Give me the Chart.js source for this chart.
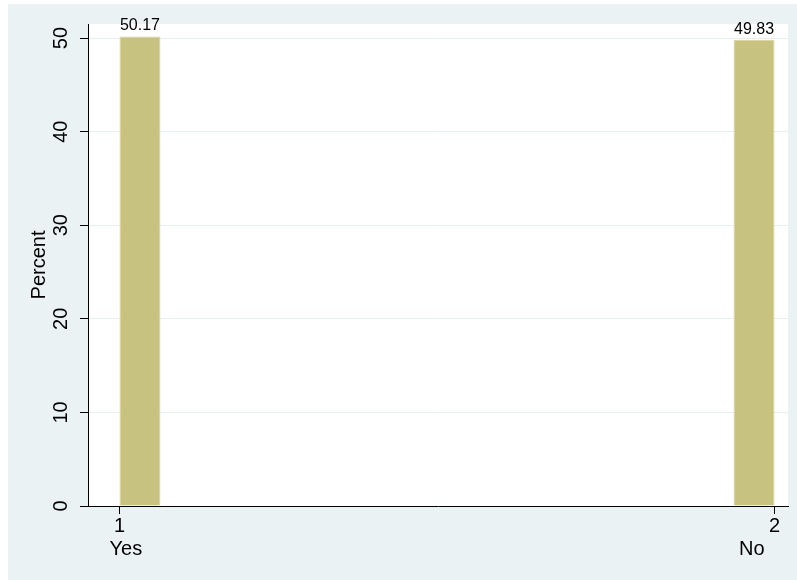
<!DOCTYPE html>
<html><head><meta charset="utf-8">
<script src="https://cdn.jsdelivr.net/npm/chart.js@4"></script>
<style>
html,body{margin:0;padding:0;background:#fff;}
#wrap{position:absolute;left:8px;top:4px;width:789px;height:576px;background:#eaf2f3;}
canvas{display:block;}
</style></head><body>
<div id="wrap"><canvas id="c" width="789" height="576"></canvas></div>
<script>
// ---- data ----
const categories = ['Yes', 'No'];
const codes = [1, 2];
const binStart = [1, 1.9375];
const binWidth = 0.0625;
const percents = [50.17, 49.83];
const yTicks = [0, 10, 20, 30, 40, 50];
const valueLabels = ['50.17', '49.83'];

const FONT = "'Liberation Sans', Arial, Helvetica, sans-serif";
const centers = binStart.map(s => s + binWidth / 2);
const spacing = centers[1] - centers[0];

const plotBg = {
  id: 'plotBg',
  beforeDraw(chart) {
    const {ctx, chartArea: a} = chart;
    ctx.save();
    ctx.fillStyle = '#ffffff';
    ctx.fillRect(a.left, a.top, a.right - a.left, a.bottom - a.top);
    ctx.restore();
  }
};

const barLabels = {
  id: 'barLabels',
  afterDatasetsDraw(chart) {
    const {ctx} = chart;
    const meta = chart.getDatasetMeta(0);
    ctx.save();
    ctx.font = '16px ' + FONT;
    ctx.fillStyle = '#000';
    ctx.textAlign = 'center';
    ctx.textBaseline = 'alphabetic';
    meta.data.forEach((bar, i) => {
      ctx.fillText(valueLabels[i], bar.x, bar.y - 6);
    });
    ctx.restore();
  }
};

// category names under the numeric ticks (Stata-style placement)
const catNames = {
  id: 'catNames',
  afterDraw(chart) {
    const {ctx, chartArea: a} = chart;
    const xs = chart.scales.x;
    ctx.save();
    ctx.font = '20px ' + FONT;
    ctx.fillStyle = '#000';
    ctx.textBaseline = 'alphabetic';
    codes.forEach((c, i) => {
      const px = xs.getPixelForValue(c);
      const first = i === 0;
      ctx.textAlign = first ? 'left' : 'right';
      ctx.fillText(categories[i], px - 10, a.bottom + 49);
    });
    ctx.restore();
  }
};

new Chart(document.getElementById('c'), {
  type: 'bar',
  data: {
    datasets: [{
      data: centers.map((c, i) => ({x: c, y: percents[i]})),
      backgroundColor: 'rgb(200,194,128)',
      borderColor: 'rgb(214,207,150)',
      borderWidth: 1,
      barPercentage: 1,
      categoryPercentage: binWidth / spacing
    }]
  },
  options: {
    responsive: false,
    animation: false,
    layout: {padding: {top: 20, right: 9, left: 0, bottom: 0}},
    plugins: {legend: {display: false}, tooltip: {enabled: false}},
    scales: {
      x: {
        type: 'linear',
        offset: false,
        min: 0.9519,
        max: 2.0206,
        afterBuildTicks(scale) { scale.ticks = codes.map(v => ({value: v})); },
        afterFit(scale) { scale.height = 74; },
        grid: {display: true, offset: false, drawOnChartArea: false, drawTicks: true, tickLength: 8, tickColor: '#000', tickWidth: 1},
        border: {display: true, color: '#000', width: 1},
        ticks: {
          color: '#000',
          padding: 1,
          maxRotation: 0,
          autoSkip: false,
          font: {family: FONT, size: 20, lineHeight: 1.1},
          callback(v) { return codes.indexOf(v) < 0 ? '' : String(v); }
        }
      },
      y: {
        type: 'linear',
        min: 0,
        max: 51.5,
        afterBuildTicks(scale) { scale.ticks = yTicks.map(v => ({value: v})); },
        afterFit(scale) { scale.width = 80; },
        grid: {color: '#e6eef1', lineWidth: 1, drawTicks: true, tickLength: 8, tickColor: '#000', tickWidth: 1},
        border: {display: true, color: '#000', width: 1},
        ticks: {
          color: '#000',
          padding: 7,
          minRotation: 90,
          maxRotation: 90,
          crossAlign: 'center',
          font: {family: FONT, size: 20},
          callback(v) { return String(v); }
        },
        title: {
          display: true,
          text: 'Percent',
          color: '#000',
          font: {family: FONT, size: 20, lineHeight: 1.2},
          padding: {top: 19, bottom: 0}
        }
      }
    }
  },
  plugins: [plotBg, barLabels, catNames]
});
</script>
</body></html>
